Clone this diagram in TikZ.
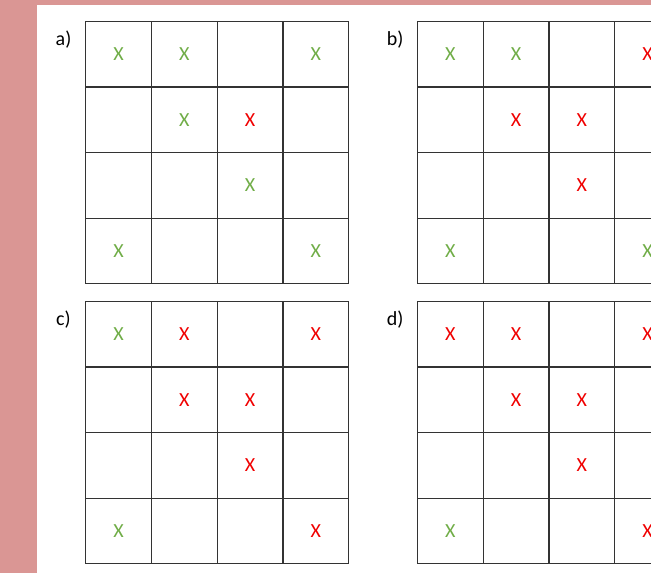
\documentclass[tikz,border=0pt]{standalone}
\usepackage{fontspec}
\setmainfont{Carlito}
\definecolor{pinkbg}{HTML}{DA9694}
\definecolor{okgreen}{HTML}{70AD47}
\definecolor{badred}{HTML}{F00000}

\begin{document}
\begin{tikzpicture}[x=1pt, y=-1pt,
  cell/.style={draw=black!80, line width=1.2pt, minimum width=65.8pt, minimum height=65.6pt, inner sep=0pt, anchor=north west},
  lab/.style={font=\fontsize{20}{24}\selectfont, inner sep=0pt},
  mk/.style={font=\fontsize{20}{24}\selectfont, inner sep=0pt}
]
\useasboundingbox (0,0) rectangle (651,573);
\clip (0,0) rectangle (651,573);
\fill[pinkbg] (0,0) rectangle (651,573);
\fill[white] (36.7,5) rectangle (651,573);
% four 4x4 boards
\foreach \p/\ox/\oy in {a/85/20.7, b/416.7/20.7, c/85/300.7, d/416.7/300.7} {
  \node[lab] (lab-\p) at (\ox-21.5, \oy+18.5) {\p)};
  \foreach \r in {1,...,4}
    \foreach \c in {1,...,4}
      \node[cell] (\p-\r-\c) at ({\ox+(\c-1)*65.8}, {\oy+(\r-1)*65.6}) {};
}
% crosses
\foreach \p/\r/\c/\col in {a/1/1/okgreen, a/1/2/okgreen, a/1/4/okgreen, a/2/2/okgreen, a/2/3/badred, a/3/3/okgreen, a/4/1/okgreen, a/4/4/okgreen,
    b/1/1/okgreen, b/1/2/okgreen, b/1/4/badred, b/2/2/badred, b/2/3/badred, b/3/3/badred, b/4/1/okgreen, b/4/4/okgreen,
    c/1/1/okgreen, c/1/2/badred, c/1/4/badred, c/2/2/badred, c/2/3/badred, c/3/3/badred, c/4/1/okgreen, c/4/4/badred,
    d/1/1/badred, d/1/2/badred, d/1/4/badred, d/2/2/badred, d/2/3/badred, d/3/3/badred, d/4/1/okgreen, d/4/4/badred}
  \node[mk, text=\col] (x-\p-\r-\c) at (\p-\r-\c) {X};
\end{tikzpicture}
\end{document}
